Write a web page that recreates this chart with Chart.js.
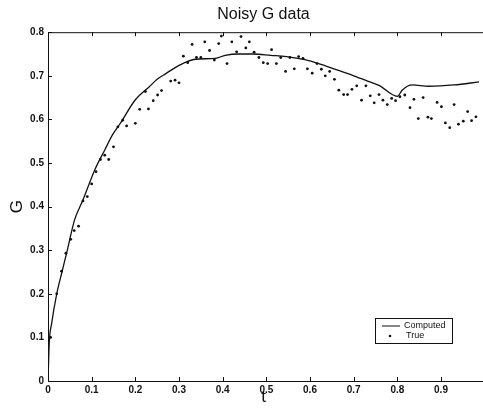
<!DOCTYPE html>
<html>
<head>
<meta charset="utf-8">
<title>Noisy G data</title>
<script src="https://cdn.jsdelivr.net/npm/chart.js@4.4.0/dist/chart.umd.min.js"></script>
<style>
    body { margin: 0; background: #ffffff; }
    canvas { display: block; }
</style>
</head>
<body>
<canvas id="canvas_g" width="483" height="410"></canvas>
<script>

// Computed curve (t, G)
const computed_t = [0, 0.003, 0.008, 0.02, 0.032, 0.043, 0.061, 0.08, 0.107, 0.13, 0.148, 0.165, 0.2, 0.232, 0.25, 0.27, 0.3, 0.338, 0.383, 0.406, 0.436, 0.47, 0.51, 0.546, 0.588, 0.62, 0.66, 0.7, 0.732, 0.758, 0.8, 0.811, 0.823, 0.834, 0.872, 0.93, 0.987]
const computed_g = [0, 0.09, 0.13, 0.2, 0.25, 0.295, 0.37, 0.415, 0.484, 0.53, 0.565, 0.59, 0.645, 0.675, 0.692, 0.705, 0.724, 0.738, 0.74, 0.747, 0.75, 0.75, 0.747, 0.744, 0.737, 0.728, 0.714, 0.7, 0.688, 0.678, 0.653, 0.667, 0.676, 0.679, 0.676, 0.679, 0.686]

// True (noisy) samples (t, G)
const true_t = [0.006, 0.02, 0.031, 0.041, 0.052, 0.06, 0.07, 0.08, 0.09, 0.1, 0.11, 0.12, 0.13, 0.139, 0.15, 0.16, 0.171, 0.18, 0.2, 0.21, 0.223, 0.23, 0.241, 0.251, 0.26, 0.281, 0.291, 0.3,
                0.31, 0.32, 0.33, 0.34, 0.35, 0.359, 0.37, 0.381, 0.391, 0.397, 0.41, 0.421, 0.432, 0.442, 0.453, 0.461, 0.472, 0.483, 0.493, 0.503, 0.512, 0.523, 0.533, 0.544, 0.554, 0.564, 0.574, 0.584, 0.594,
                0.605, 0.616, 0.626, 0.635, 0.645, 0.656, 0.666, 0.677, 0.686, 0.696, 0.707, 0.718, 0.728, 0.738, 0.747, 0.758, 0.767, 0.777, 0.787, 0.796, 0.806, 0.817, 0.829, 0.838, 0.848, 0.859, 0.87, 0.878,
                0.891, 0.901, 0.91, 0.92, 0.93, 0.94, 0.951, 0.961, 0.97, 0.98]
const true_g = [0.10, 0.20, 0.252, 0.293, 0.325, 0.345, 0.355, 0.413, 0.423, 0.452, 0.48, 0.508, 0.518, 0.508, 0.537, 0.583, 0.598, 0.585, 0.591, 0.623, 0.664, 0.624, 0.643, 0.656, 0.666, 0.688, 0.69, 0.684,
                0.745, 0.73, 0.772, 0.742, 0.742, 0.778, 0.758, 0.736, 0.774, 0.791, 0.728, 0.778, 0.755, 0.79, 0.764, 0.778, 0.754, 0.742, 0.73, 0.728, 0.76, 0.728, 0.742, 0.71, 0.742, 0.716, 0.744, 0.74, 0.716,
                0.706, 0.728, 0.715, 0.70, 0.71, 0.692, 0.667, 0.657, 0.657, 0.669, 0.677, 0.644, 0.677, 0.654, 0.638, 0.657, 0.644, 0.634, 0.648, 0.643, 0.652, 0.656, 0.627, 0.646, 0.602, 0.65, 0.605, 0.602,
                0.639, 0.629, 0.592, 0.581, 0.634, 0.589, 0.596, 0.618, 0.597, 0.606]

// Axis ticks and labels
const x_ticks  = [0, 0.1, 0.2, 0.3, 0.4, 0.5, 0.6, 0.7, 0.8, 0.9]
const x_labels = ['0', '0.1', '0.2', '0.3', '0.4', '0.5', '0.6', '0.7', '0.8', '0.9']
const y_ticks  = [0, 0.1, 0.2, 0.3, 0.4, 0.5, 0.6, 0.7, 0.8]
const y_labels = ['0', '0.1', '0.2', '0.3', '0.4', '0.5', '0.6', '0.7', '0.8']

const x_min = 0, x_max = 0.987
const y_min = 0, y_max = 0.8

function makePoints(xs, ys) {
    return xs.map((x, i) => ({ x: x, y: ys[i] }))
}

const tickFont = { family: '"Liberation Sans", Arial, sans-serif', size: 10, weight: 'bold' }

// Box on top/left/bottom with inward tick marks (MATLAB style)
const frameTicks = {
    id: 'frameTicks',
    afterDraw(chart) {
        const ctx = chart.ctx
        const a = chart.chartArea
        const xs = chart.scales.x
        const ys = chart.scales.y
        ctx.save()
        ctx.strokeStyle = '#111'
        ctx.lineWidth = 1
        ctx.beginPath()
        ctx.moveTo(a.right + 5, a.top + 0.5)
        ctx.lineTo(a.left + 0.5, a.top + 0.5)
        ctx.lineTo(a.left + 0.5, a.bottom + 0.5)
        ctx.lineTo(a.right + 5, a.bottom + 0.5)
        ctx.stroke()

        ctx.beginPath()
        x_ticks.forEach(v => {
            const px = Math.round(xs.getPixelForValue(v)) + 0.5
            ctx.moveTo(px, a.bottom)
            ctx.lineTo(px, a.bottom - 4)
            ctx.moveTo(px, a.top)
            ctx.lineTo(px, a.top + 4)
        })
        y_ticks.forEach(v => {
            const py = Math.round(ys.getPixelForValue(v)) + 0.5
            ctx.moveTo(a.left, py)
            ctx.lineTo(a.left + 4, py)
        })
        ctx.stroke()
        ctx.restore()
    }
}

// Small boxed legend inside the plot, lower right
const boxLegend = {
    id: 'boxLegend',
    afterDraw(chart) {
        const ctx = chart.ctx
        const sets = chart.data.datasets
        const bx = 375, by = 318, bw = 77, bh = 25
        ctx.save()
        ctx.fillStyle = '#ffffff'
        ctx.fillRect(bx, by, bw, bh)
        ctx.strokeStyle = '#111'
        ctx.lineWidth = 1
        ctx.strokeRect(bx + 0.5, by + 0.5, bw, bh)

        ctx.font = '9px "Liberation Sans", Arial, sans-serif'
        ctx.textBaseline = 'middle'
        ctx.fillStyle = '#111'

        // Computed
        ctx.beginPath()
        ctx.moveTo(382, by + 8)
        ctx.lineTo(400, by + 8)
        ctx.stroke()
        ctx.fillText(sets[0].label, 404, by + 8)

        // True
        ctx.beginPath()
        ctx.arc(390, by + 18, 1.3, 0, Math.PI * 2)
        ctx.fill()
        ctx.fillText(sets[1].label, 406, by + 18)
        ctx.restore()
    }
}

const ctx_g = document.getElementById('canvas_g')

new Chart(ctx_g, {
    type: 'scatter',
    data: {
        datasets: [
            {
                label: 'Computed',
                data: makePoints(computed_t, computed_g),
                showLine: true,
                borderColor: '#111',
                borderWidth: 1.3,
                pointRadius: 0,
                cubicInterpolationMode: 'monotone'
            },
            {
                label: 'True',
                data: makePoints(true_t, true_g),
                showLine: false,
                pointRadius: 1.4,
                pointBackgroundColor: '#111',
                pointBorderWidth: 0,
                borderColor: '#111'
            }
        ]
    },
    options: {
        responsive: false,
        animation: false,
        layout: { padding: 0 },
        plugins: {
            legend: { display: false },
            tooltip: { enabled: false },
            title: {
                display: true,
                fullSize: false,
                text: 'Noisy G data',
                color: '#111',
                font: { family: '"Liberation Sans", Arial, sans-serif', size: 16, weight: 'normal' },
                padding: { top: 5, bottom: 8 }
            }
        },
        scales: {
            x: {
                type: 'linear',
                min: x_min,
                max: x_max,
                afterBuildTicks: s => { s.ticks = x_ticks.map(v => ({ value: v })) },
                afterFit: s => { s.height = 29 },
                grid: { display: false, drawTicks: false },
                border: { display: false },
                ticks: {
                    padding: 3,
                    color: '#111',
                    font: tickFont,
                    maxRotation: 0,
                    autoSkip: false,
                    callback: (v) => x_labels[x_ticks.indexOf(v)]
                },
                title: {
                    display: true,
                    text: 't',
                    color: '#111',
                    font: { family: '"Liberation Sans", Arial, sans-serif', size: 17 },
                    padding: { top: 0, bottom: 2 }
                }
            },
            y: {
                type: 'linear',
                min: y_min,
                max: y_max,
                afterBuildTicks: s => { s.ticks = y_ticks.map(v => ({ value: v })) },
                afterFit: s => { s.width = 48 },
                grid: { display: false, drawTicks: false },
                border: { display: false },
                ticks: {
                    padding: 4,
                    color: '#111',
                    font: tickFont,
                    autoSkip: false,
                    callback: (v) => y_labels[y_ticks.indexOf(v)]
                },
                title: {
                    display: true,
                    text: 'G',
                    color: '#111',
                    font: { family: '"Liberation Sans", Arial, sans-serif', size: 17 },
                    padding: { top: 7, bottom: 0 }
                }
            }
        }
    },
    plugins: [frameTicks, boxLegend]
});

</script>
</body>
</html>
